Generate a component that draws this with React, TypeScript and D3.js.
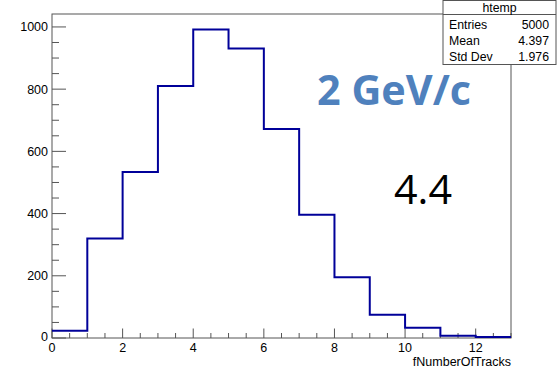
import React from "react";
import * as d3 from "d3";

const binEdges = [0, 1, 2, 3, 4, 5, 6, 7, 8, 9, 10, 11, 12, 13];
const binCounts = [23, 320, 534, 810, 992, 931, 672, 396, 195, 75, 33, 7, 3];
const xTickLabels = [0, 2, 4, 6, 8, 10, 12];
const yTickLabels = [0, 200, 400, 600, 800, 1000];
const statsTitle = "htemp";
const statsRows: [string, string][] = [
  ["Entries", "5000"],
  ["Mean", "4.397"],
  ["Std Dev", "1.976"],
];
const xTitle = "fNumberOfTracks";
const annotation1 = "2 GeV/c";
const annotation2 = "4.4";

const W = 558;
const H = 369;
const m = { left: 52, right: 511, top: 14, bottom: 338 };
const FONT = "'Liberation Sans', Arial, sans-serif";
const AX = "#555";

export default function App() {
  const x = d3.scaleLinear().domain([0, 13]).range([m.left, m.right]);
  const yMax = d3.max(binCounts)! * 1.05;
  const y = d3.scaleLinear().domain([0, yMax]).range([m.bottom, m.top]);

  const pts: [number, number][] = [];
  binCounts.forEach((c, i) => {
    pts.push([binEdges[i], c]);
    pts.push([binEdges[i + 1], c]);
  });
  const line = d3
    .line<[number, number]>()
    .x((d) => x(d[0]))
    .y((d) => y(d[1]));

  const xMinor = d3.range(0, 13.01, 0.5);
  const yMinor = d3.range(0, yMax, 50);

  return (
    <svg
      width={W}
      height={H}
      style={{ position: "absolute", left: 0, top: 0, background: "#fff" }}
      fontFamily={FONT}
    >
      <rect x={0} y={0} width={W} height={H} fill="#fff" />
      <rect
        x={m.left}
        y={m.top}
        width={m.right - m.left}
        height={m.bottom - m.top}
        fill="none"
        stroke={AX}
        strokeWidth={1}
      />
      {xMinor.map((v) => {
        const major = Math.abs(v % 2) < 1e-6;
        return (
          <line
            key={"xt" + v}
            x1={x(v)}
            x2={x(v)}
            y1={m.bottom}
            y2={m.bottom - (major ? 9.5 : 5)}
            stroke={AX}
            strokeWidth={1}
          />
        );
      })}
      {yMinor.map((v) => {
        const major = v % 200 === 0;
        return (
          <line
            key={"yt" + v}
            x1={m.left}
            x2={m.left + (major ? 14 : 7)}
            y1={y(v)}
            y2={y(v)}
            stroke={AX}
            strokeWidth={1}
          />
        );
      })}
      {xTickLabels.map((v) => (
        <text
          key={"xl" + v}
          x={x(v)}
          y={352}
          fontSize={12.5}
          textAnchor="middle"
          fill="#000"
        >
          {v}
        </text>
      ))}
      {yTickLabels.map((v) => (
        <text
          key={"yl" + v}
          x={48}
          y={v === 0 ? y(v) + 3 : y(v) + 4.5}
          fontSize={12.5}
          textAnchor="end"
          fill="#000"
        >
          {v}
        </text>
      ))}
      <text x={511} y={366} fontSize={12.5} textAnchor="end" fill="#000">
        {xTitle}
      </text>
      <path
        d={line(pts) || ""}
        fill="none"
        stroke="#000099"
        strokeWidth={2}
        strokeLinejoin="miter"
      />
      <text
        x={317}
        y={105}
        fontSize={42}
        fontWeight="bold"
        fill="#4F81BD"
        fontFamily="'Open Sans', 'Noto Sans', sans-serif"
        textLength={154}
        lengthAdjust="spacingAndGlyphs"
      >
        {annotation1}
      </text>
      <text
        x={394}
        y={204}
        fontSize={41}
        fill="#000"
        fontFamily="'Open Sans', 'Noto Sans', sans-serif"
        textLength={58}
        lengthAdjust="spacingAndGlyphs"
      >
        {annotation2}
      </text>
      <rect x={443} y={0.5} width={113} height={64} fill="#fff" stroke={AX} strokeWidth={1} />
      <line x1={443} x2={556} y1={14.5} y2={14.5} stroke={AX} strokeWidth={1} />
      <text x={499.5} y={12} fontSize={12.3} textAnchor="middle" fill="#000">
        {statsTitle}
      </text>
      {statsRows.map((r, i) => (
        <g key={r[0]}>
          <text x={449} y={29.2 + i * 16.1} fontSize={12.3} fill="#000">
            {r[0]}
          </text>
          <text x={549} y={29.2 + i * 16.1} fontSize={12.3} textAnchor="end" fill="#000">
            {r[1]}
          </text>
        </g>
      ))}
    </svg>
  );
}
